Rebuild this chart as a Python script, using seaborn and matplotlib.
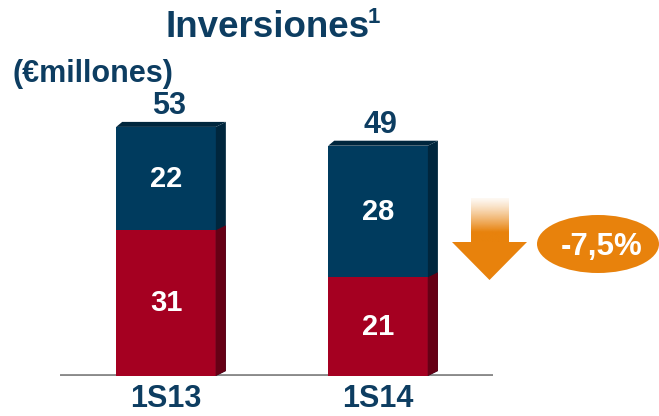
import numpy as np
import pandas as pd
import matplotlib
matplotlib.use("Agg")
import matplotlib.pyplot as plt
import seaborn as sns
from matplotlib.patches import Polygon, Ellipse

# datos
periodos = ["1S13", "1S14"]
inversion_roja = [31, 21]
inversion_azul = [22, 28]
totales = [53, 49]
variacion = "-7,5%"

AZUL = "#003B5E"
AZUL_LADO = "#00263D"
ROJO = "#A50021"
ROJO_LADO = "#660015"
TEXTO = "#0D3D61"
NARANJA = "#E8820C"
GRIS = "#8A8A8A"

W, H = 659, 416

sns.set_theme(style="white")
plt.rcParams['font.family'] = ['Liberation Sans', 'DejaVu Sans']

fig = plt.figure(figsize=(W / 100, H / 100), dpi=100)

# ejes en pixeles de la imagen
ax_l, ax_r, ax_b, ax_t = 60, 493, 376, 94
ax = fig.add_axes([ax_l / W, (H - ax_b) / H, (ax_r - ax_l) / W, (ax_b - ax_t) / H])

df = pd.DataFrame({
    "periodo": periodos,
    "roja": inversion_roja,
    "azul": inversion_azul,
    "total": totales,
})

sns.barplot(data=df, x="periodo", y="total", color=AZUL, saturation=1,
            width=0.47, errorbar=None, ax=ax, zorder=3)
sns.barplot(data=df, x="periodo", y="roja", color=ROJO, saturation=1,
            width=0.47, errorbar=None, ax=ax, zorder=3)

xmin, xmax, ymin, ymax = -0.5, 1.542, 0, 60
ax.set_xlim(xmin, xmax)
ax.set_ylim(ymin, ymax)

# efecto 3D: caras laterales y superior
px_x = (ax_r - ax_l) / (xmax - xmin)
px_y = (ax_b - ax_t) / (ymax - ymin)
dx, dy = 10 / px_x, 5 / px_y

n = len(periodos)
for k, p in enumerate(ax.patches[:2 * n]):
    p.set_edgecolor("none")
    x0, w = p.get_x(), p.get_width()
    y0, h = p.get_y(), p.get_height()
    x1, y1 = x0 + w, y0 + h
    lado = AZUL_LADO if k < n else ROJO_LADO
    ax.add_patch(Polygon([(x1, y0), (x1 + dx, y0 + dy), (x1 + dx, y1 + dy), (x1, y1)],
                         closed=True, facecolor=lado, edgecolor="none", zorder=3.5 if k < n else 3.6))
    if k < n:
        ax.add_patch(Polygon([(x0, y1), (x0 + dx * 0.6, y1 + dy), (x1 + dx, y1 + dy), (x1, y1)],
                             closed=True, facecolor=AZUL_LADO, edgecolor="none", zorder=3.5))

ax.axhline(0, color=GRIS, lw=3.5, zorder=2)

for i in range(n):
    ax.text(i, inversion_roja[i] / 2, str(inversion_roja[i]), ha="center", va="center",
            color="white", fontsize=21, fontweight="bold", zorder=5)
    ax.text(i, inversion_roja[i] + inversion_azul[i] / 2, str(inversion_azul[i]),
            ha="center", va="center", color="white", fontsize=21, fontweight="bold", zorder=5)
    ax.annotate(str(totales[i]), (i, totales[i]), xytext=(2, 4), textcoords="offset points",
                ha="center", va="bottom", color=TEXTO, fontsize=22, fontweight="bold")

ax.set_xlabel("")
ax.set_ylabel("")
ax.set_yticks([])
ax.set_xticks(range(n))
ax.set_xticklabels(periodos, fontsize=22, fontweight="bold", color=TEXTO)
ax.tick_params(axis="x", length=0, pad=6)
sns.despine(ax=ax, left=True, bottom=True)
ax.patch.set_alpha(0)

# titulos
fig.text(165 / W, 1 - 37 / H, "Inversiones", ha="left", va="baseline",
         fontsize=26.5, fontweight="bold", color=TEXTO)
fig.text(368 / W, 1 - 23 / H, "1", ha="left", va="baseline",
         fontsize=16, fontweight="bold", color=TEXTO)
fig.text(13 / W, 1 - 82 / H, "(€millones)", ha="left", va="baseline",
         fontsize=22, fontweight="bold", color=TEXTO)

# flecha naranja con degradado
ax2 = fig.add_axes([452 / W, (H - 280) / H, 75 / W, 82 / H])
ax2.set_xlim(0, 75)
ax2.set_ylim(0, 82)
ax2.axis("off")
ax2.add_patch(Polygon([(0, 38), (75, 38), (37.5, 0)], closed=True,
                      facecolor=NARANJA, edgecolor="none"))
yy = np.linspace(38, 82, 100)
alfa = 0.05 + 0.95 * np.clip((82 - yy) / 34, 0, 1) ** 1.2
rgb = matplotlib.colors.to_rgb(NARANJA)
grad = np.zeros((len(yy), 1, 4))
grad[:, 0, :3] = rgb
grad[:, 0, 3] = alfa
ax2.imshow(grad, extent=(19, 57, 38, 82), origin="lower", aspect="auto", interpolation="bilinear")
ax2.set_xlim(0, 75)
ax2.set_ylim(0, 82)

# elipse con la variacion
fig.add_artist(Ellipse((598 / W, 1 - 244 / H), 122 / W, 58 / H,
                       transform=fig.transFigure, facecolor=NARANJA, edgecolor="none"))
fig.text(602 / W, 1 - 247 / H, variacion, ha="center", va="center",
         fontsize=22.5, fontweight="bold", color="white")

fig.savefig("out.png", dpi=100)
